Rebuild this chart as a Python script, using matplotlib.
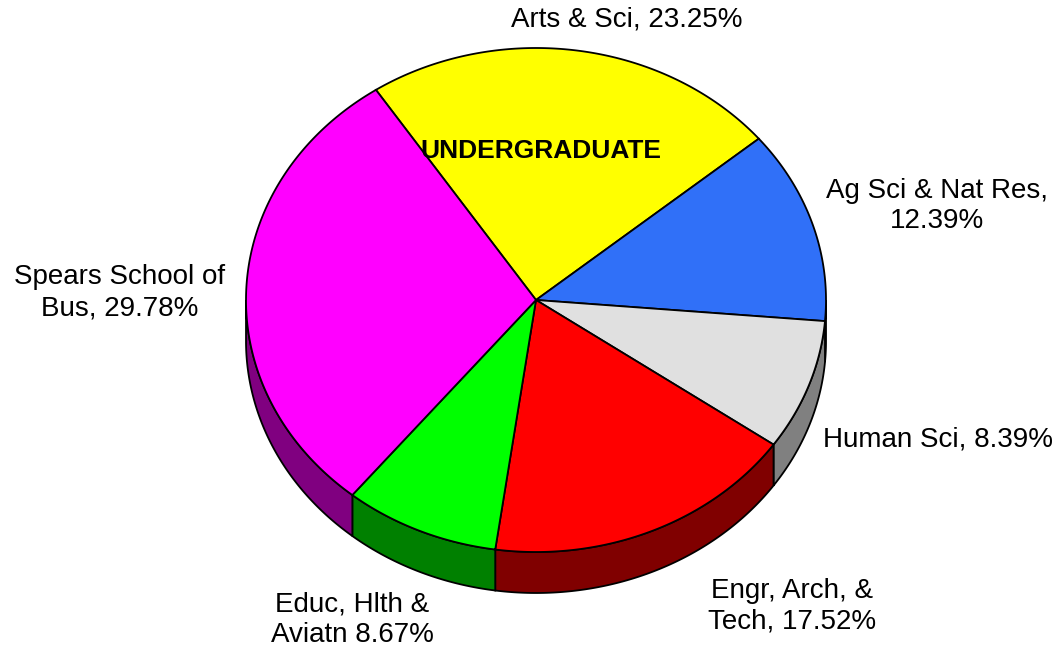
import numpy as np
import matplotlib.pyplot as plt
from matplotlib.patches import Polygon

# slices, clockwise starting from the top-left edge of Arts & Sci
labels = ["Arts & Sci, 23.25%", "Ag Sci & Nat Res,\n12.39%", "Human Sci, 8.39%",
          "Engr, Arch, &\nTech, 17.52%", "Educ, Hlth &\nAviatn 8.67%",
          "Spears School of\nBus, 29.78%"]
values = [23.25, 12.39, 8.39, 17.52, 8.67, 29.78]
top_colors = ["#FFFF00", "#3070F8", "#E0E0E0", "#FF0000", "#00FF00", "#FF00FF"]
side_colors = ["#808000", "#183880", "#808080", "#800000", "#008000", "#800080"]
label_pos = [(627, 20), (937, 206), (938, 440), (792, 606), (352, 620), (120, 293)]

# pie geometry in pixel units (y down)
cx, cy = 536, 300
rx, ry = 290, 252
depth = 41
start = -33.5

def pt(th, dz=0):
    t = np.radians(th)
    return cx + rx * np.sin(t), cy - ry * np.cos(t) + dz

fig = plt.figure(figsize=(10.62, 6.5), dpi=100)
ax = fig.add_axes([0, 0, 1, 1])
ax.set_xlim(0, 1062)
ax.set_ylim(650, 0)
ax.axis("off")

angles = start + np.concatenate([[0], np.cumsum(values)]) / 100 * 360

# side walls (only front half visible)
for i in range(len(values)):
    a0, a1 = angles[i], angles[i + 1]
    s0, s1 = max(a0, 90), min(a1, 270)
    if s1 <= s0:
        continue
    th = np.linspace(s0, s1, 100)
    xs, ys = pt(th)
    xb, yb = pt(th[::-1], depth)
    poly = np.column_stack([np.concatenate([xs, xb]), np.concatenate([ys, yb])])
    ax.add_patch(Polygon(poly, closed=True, facecolor=side_colors[i],
                         edgecolor="black", lw=1.3, zorder=1))

# top faces
for i in range(len(values)):
    th = np.linspace(angles[i], angles[i + 1], 200)
    xs, ys = pt(th)
    poly = np.column_stack([np.concatenate([[cx], xs]), np.concatenate([[cy], ys])])
    ax.add_patch(Polygon(poly, closed=True, facecolor=top_colors[i],
                         edgecolor="black", lw=1.3, zorder=2))

for lab, (x, y) in zip(labels, label_pos):
    ax.text(x, y, lab, ha="center", va="center", fontsize=20,
            family="Liberation Sans", linespacing=1.25, zorder=3)

ax.text(541, 151, "UNDERGRADUATE", ha="center", va="center", fontsize=19,
        fontweight="bold", family="Liberation Sans", zorder=3)

fig.savefig("out.png", dpi=100)
